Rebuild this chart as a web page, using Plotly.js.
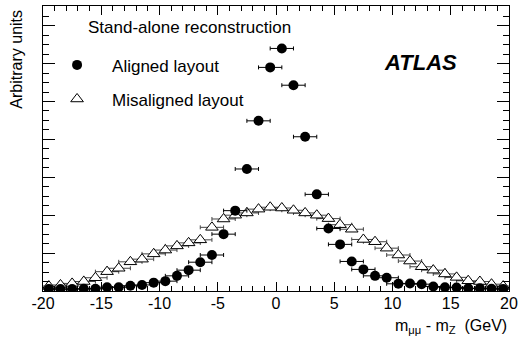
<!DOCTYPE html>
<html>
<head>
<meta charset="utf-8">
<script src="https://cdn.plot.ly/plotly-3.0.1.min.js"></script>
<style>html,body{margin:0;padding:0;background:#fff;}#chart{width:519px;height:339px;}</style>
</head>
<body>
<div id="chart"></div>
<script>
// bin centres of m_mumu - m_Z (GeV)
const binCentres = [-19.5,-18.5,-17.5,-16.5,-15.5,-14.5,-13.5,-12.5,-11.5,-10.5,-9.5,-8.5,-7.5,-6.5,-5.5,-4.5,-3.5,-2.5,-1.5,-0.5,
                    0.5,1.5,2.5,3.5,4.5,5.5,6.5,7.5,8.5,9.5,10.5,11.5,12.5,13.5,14.5,15.5,16.5,17.5,18.5,19.5];
// half bin width shown as horizontal error (GeV)
const xHalfWidth = [1,1,1,1,1,1,1,1,1,1,1,1,1,1,1,1,1,1,1,1,1,1,1,1,1,1,1,1,1,1,1,1,1,1,1,1,1,1,1,1];
// Aligned layout (filled circles), arbitrary units
const alignedValues = [0.05,0.05,0.05,0.06,0.06,0.10,0.10,0.14,0.16,0.22,0.26,0.40,0.55,0.76,0.95,1.50,2.12,3.22,4.49,5.90,
                       6.40,5.43,4.07,2.55,1.65,1.23,0.78,0.57,0.40,0.35,0.19,0.20,0.18,0.12,0.10,0.09,0.07,0.07,0.06,0.05];
const alignedErrors = [0.02,0.02,0.02,0.02,0.02,0.02,0.02,0.02,0.02,0.02,0.02,0.02,0.03,0.03,0.03,0.04,0.04,0.05,0.05,0.06,
                       0.06,0.05,0.05,0.04,0.04,0.03,0.03,0.03,0.02,0.02,0.02,0.02,0.02,0.02,0.02,0.02,0.02,0.02,0.02,0.02];
// Misaligned layout (open triangles), arbitrary units
const misalignedValues = [0.13,0.16,0.20,0.25,0.35,0.51,0.60,0.77,0.84,0.98,1.08,1.19,1.27,1.35,1.68,1.90,2.00,2.06,2.16,2.21,
                          2.19,2.13,2.06,2.00,1.91,1.75,1.63,1.36,1.30,1.13,0.95,0.79,0.64,0.55,0.45,0.36,0.27,0.25,0.18,0.13];
const misalignedErrors = [0.02,0.02,0.02,0.02,0.02,0.02,0.02,0.02,0.02,0.02,0.02,0.02,0.02,0.02,0.03,0.03,0.03,0.03,0.03,0.03,
                          0.03,0.03,0.03,0.03,0.03,0.03,0.03,0.02,0.02,0.02,0.02,0.02,0.02,0.02,0.02,0.02,0.02,0.02,0.02,0.02];
const xTickVals = [-20,-15,-10,-5,0,5,10,15,20];
const xTickText = ['-20','-15','-10','-5','0','5','10','15','20'];
const seriesNames = ['Aligned layout','Misaligned layout'];

const FONT = 'Liberation Sans, Arial, Helvetica, sans-serif';

const traces = [
  {
    x: binCentres, y: misalignedValues, type: 'scatter', mode: 'markers',
    name: seriesNames[1], legendgroup: 'mis', legendrank: 2,
    marker: {symbol: 'triangle-up', size: 11, color: '#ffffff', line: {color: '#000000', width: 1}},
    error_x: {type: 'data', array: xHalfWidth, color: '#444444', thickness: 1, width: 2},
    error_y: {type: 'data', array: misalignedErrors, color: '#444444', thickness: 1, width: 0}
  },
  {
    x: binCentres, y: alignedValues, type: 'scatter', mode: 'markers',
    name: seriesNames[0], legendgroup: 'ali', legendrank: 1,
    marker: {symbol: 'circle', size: 10, color: '#000000'},
    error_x: {type: 'data', array: xHalfWidth, color: '#000000', thickness: 1, width: 2},
    error_y: {type: 'data', array: alignedErrors, color: '#000000', thickness: 1, width: 0}
  }
];

const layout = {
  width: 519, height: 339,
  margin: {l: 43, r: 10, t: 6, b: 48},
  paper_bgcolor: '#ffffff', plot_bgcolor: '#ffffff',
  font: {family: FONT, color: '#000000', size: 16},
  showlegend: true,
  legend: {
    x: -0.002, y: 0.855, xanchor: 'left', yanchor: 'top',
    bgcolor: 'rgba(0,0,0,0)', borderwidth: 0,
    font: {family: FONT, size: 17, color: '#000000'},
    itemwidth: 60, tracegroupgap: 9, traceorder: 'grouped'
  },
  xaxis: {
    range: [-20, 20], tickmode: 'array', tickvals: xTickVals, ticktext: xTickText,
    ticks: 'inside', ticklen: 9, tickwidth: 1, tickcolor: '#000000', ticklabelstandoff: -2,
    minor: {dtick: 1, tickmode: 'linear', ticks: 'inside', ticklen: 5, tickcolor: '#000000', tickwidth: 1, showgrid: false},
    showline: true, linecolor: '#000000', linewidth: 1, mirror: 'ticks',
    showgrid: false, zeroline: false,
    tickfont: {family: FONT, size: 16, color: '#000000'}
  },
  yaxis: {
    range: [0, 7.52], dtick: 1, tick0: 0, showticklabels: false,
    ticks: 'inside', ticklen: 12, tickwidth: 1, tickcolor: '#000000',
    minor: {dtick: 0.25, ticks: 'inside', ticklen: 6, tickcolor: '#000000', tickwidth: 1, showgrid: false},
    showline: true, linecolor: '#000000', linewidth: 1, mirror: 'ticks',
    showgrid: false, zeroline: false
  },
  annotations: [
    {text: 'Stand-alone reconstruction', xref: 'paper', yref: 'paper', x: 0.092, y: 0.923,
     xanchor: 'left', yanchor: 'middle', showarrow: false, font: {family: FONT, size: 17}},
    {text: '<b><i>ATLAS</i></b>', xref: 'paper', yref: 'paper', x: 0.810, y: 0.80,
     xanchor: 'center', yanchor: 'middle', showarrow: false, font: {family: FONT, size: 22}},
    {text: 'm<sub>μμ</sub> - m<sub>Z</sub>  (GeV)', xref: 'paper', yref: 'paper', x: 1.0, y: -0.126,
     xanchor: 'right', yanchor: 'middle', showarrow: false, font: {family: FONT, size: 16}},
    {text: 'Arbitrary units', xref: 'paper', yref: 'paper', x: -0.0558, y: 0.996, textangle: -90,
     xanchor: 'center', yanchor: 'top', showarrow: false, font: {family: FONT, size: 16}}
  ]
};

Plotly.newPlot('chart', traces, layout, {displayModeBar: false, staticPlot: true});
</script>
</body>
</html>
